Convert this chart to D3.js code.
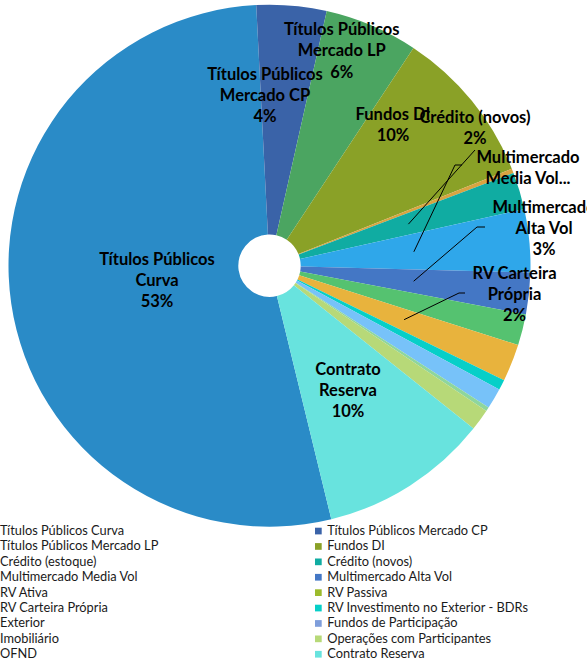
<!DOCTYPE html>
<html>
<head>
<meta charset="utf-8">
<script src="https://cdn.jsdelivr.net/npm/d3@7"></script>
<style>
  body { margin: 0; background: #fff; }
  svg { display: block; font-family: Lato, "Open Sans", sans-serif; }
</style>
</head>
<body>
<div class="canvas"></div>
<script>
// data, in chart order (share of the portfolio, %)
const categories = [
  "Títulos Públicos Curva", "Títulos Públicos Mercado CP",
  "Títulos Públicos Mercado LP", "Fundos DI",
  "Crédito (estoque)", "Crédito (novos)",
  "Multimercado Media Vol", "Multimercado Alta Vol",
  "RV Ativa", "RV Passiva",
  "RV Carteira Própria", "RV Investimento no Exterior - BDRs",
  "Exterior", "Fundos de Participação",
  "Imobiliário", "Operações com Participantes",
  "OFND", "Contrato Reserva"
];
const values = [53.0, 4.33, 5.78, 9.64, 0.28, 2.31, 3.89, 2.58, 1.92, 0,
  2.31, 0.64, 1.28, 0, 0.25, 1.33, 0, 10.47];
const colors = ["#2a8bc7", "#3a63a8", "#4ba561", "#8aa127", "#d9a441", "#10aca2",
  "#2fa7ea", "#4477c5", "#55c270", "#9cbb2c", "#e8b33d", "#07cfc8",
  "#77c2f9", "#7f9edb", "#8ed69d", "#b7d978", "#d3a86a", "#68e3de"];

// data labels shown on the chart (others were removed)
const labelLines = {
  "Títulos Públicos Curva": ["Títulos Públicos", "Curva"],
  "Títulos Públicos Mercado CP": ["Títulos Públicos", "Mercado CP"],
  "Títulos Públicos Mercado LP": ["Títulos Públicos", "Mercado LP"],
  "Fundos DI": ["Fundos DI"],
  "Crédito (novos)": ["Crédito (novos)"],
  "Multimercado Media Vol": ["Multimercado", "Media Vol..."],
  "Multimercado Alta Vol": ["Multimercado", "Alta Vol"],
  "RV Carteira Própria": ["RV Carteira", "Própria"],
  "Contrato Reserva": ["Contrato", "Reserva"]
};
const hidePct = ["Multimercado Media Vol"];

// label placement, relative to pie centre; leader start relative to label
const labelPos = {
  "Títulos Públicos Curva": { x: -112.5, y: 14.3 },
  "Títulos Públicos Mercado CP": { x: -4.5, y: -170.7 },
  "Títulos Públicos Mercado LP": { x: 72.2, y: -215.2 },
  "Fundos DI": { x: 123.5, y: -141 },
  "Crédito (novos)": { x: 205.5, y: -138.2, leader: [0, 22.5, 0] },
  "Multimercado Media Vol": { x: 258.5, y: -98.2, leader: [-66, -2.5, 7] },
  "Multimercado Alta Vol": { x: 274.5, y: -37.7, leader: [-59, -1, 8] },
  "RV Carteira Própria": { x: 245, y: 28.3, leader: [-49.5, -1, 6] },
  "Contrato Reserva": { x: 78.5, y: 124.3 }
};

const width = 587, height = 661;
const center = { x: 269.5, y: 265.7 };
const radius = 261, hole = 31.2, leaderR = 145;
const startDeg = 166.3;
const lineH = 21.4;

const svg = d3.select(".canvas").append("svg")
  .attr("width", width)
  .attr("height", height);

const data = categories.map((c, i) => ({ name: c, value: values[i], color: colors[i] }));
const total = d3.sum(values);
const pct = d3.format(".0%");

const pie = d3.pie()
  .sort(null)
  .value(d => d.value)
  .startAngle(startDeg * Math.PI / 180)
  .endAngle(startDeg * Math.PI / 180 + 2 * Math.PI);

const arcPath = d3.arc().innerRadius(hole).outerRadius(radius);
const leaderArc = d3.arc().innerRadius(leaderR).outerRadius(leaderR);

const graph = svg.append("g")
  .attr("transform", `translate(${center.x},${center.y})`);

const arcs = pie(data);

graph.selectAll("path.arc")
  .data(arcs)
  .enter()
  .append("path")
  .attr("class", "arc")
  .attr("d", arcPath)
  .attr("fill", d => d.data.color);

// leader lines
const labelled = arcs.filter(d => labelLines[d.data.name]);

graph.selectAll("polyline")
  .data(labelled.filter(d => labelPos[d.data.name].leader))
  .enter()
  .append("polyline")
  .attr("fill", "none")
  .attr("stroke", "#000")
  .attr("stroke-width", 1)
  .attr("points", d => {
    const p = labelPos[d.data.name];
    const [dx, dy, el] = p.leader;
    const s = [p.x + dx, p.y + dy];
    const e = [s[0] - el, s[1]];
    const t = leaderArc.centroid(d);
    return [s, e, t].map(q => q.join(",")).join(" ");
  });

// data labels
const labels = graph.selectAll("text.lbl")
  .data(labelled)
  .enter()
  .append("text")
  .attr("class", "lbl")
  .attr("text-anchor", "middle")
  .attr("font-weight", "bold")
  .attr("font-size", "16.5px")
  .attr("fill", "#000");

labels.each(function (d) {
  const p = labelPos[d.data.name];
  const lines = labelLines[d.data.name].slice();
  if (!hidePct.includes(d.data.name)) lines.push(pct(d.data.value / total));
  const y0 = p.y - (lines.length - 1) * lineH / 2;
  d3.select(this).selectAll("tspan")
    .data(lines)
    .enter()
    .append("tspan")
    .attr("x", p.x)
    .attr("y", (l, i) => y0 + i * lineH)
    .attr("dy", "0.36em")
    .text(l => l);
});

// legend, two columns read row by row
const legend = svg.append("g")
  .attr("transform", "translate(0,535)");

const colX = [0, 327.3];
const rowH = 15.4;

const items = legend.selectAll("g")
  .data(data)
  .enter()
  .append("g")
  .attr("transform", (d, i) => `translate(${colX[i % 2]},${Math.floor(i / 2) * rowH})`);

items.append("rect")
  .attr("x", -12.3)
  .attr("y", -7.3)
  .attr("width", 6.7)
  .attr("height", 6.7)
  .attr("fill", d => d.color);

items.append("text")
  .attr("x", 0)
  .attr("y", 0)
  .attr("font-size", "12.8px")
  .attr("fill", "#1a1a1a")
  .text(d => d.name);
</script>
</body>
</html>
